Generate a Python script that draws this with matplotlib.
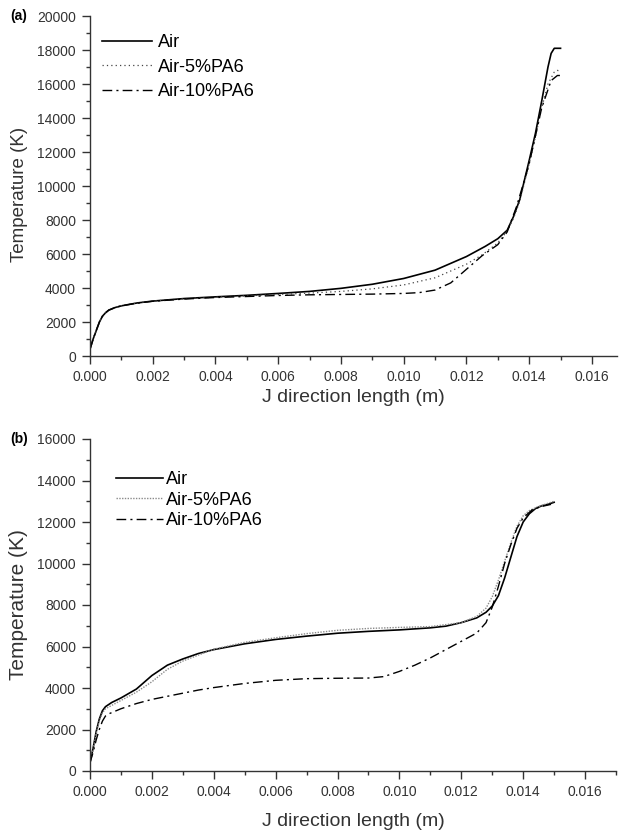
import matplotlib
matplotlib.use('Agg')
import matplotlib.pyplot as plt
from matplotlib.ticker import MultipleLocator, FormatStrFormatter

plt.rcParams['font.family'] = ['Liberation Sans', 'DejaVu Sans']

# (a) temperature along the J direction
air_a_x = [0.0, 0.0001, 0.0002, 0.0003, 0.0004, 0.0005, 0.0006, 0.0008, 0.001, 0.0015,
           0.002, 0.003, 0.004, 0.005, 0.006, 0.007, 0.008, 0.009, 0.010, 0.011,
           0.012, 0.0126, 0.013, 0.0133, 0.0135, 0.0137, 0.014, 0.0142, 0.0144,
           0.0146, 0.0147, 0.0148, 0.015]
air_a_T = [400, 1000, 1500, 2000, 2350, 2550, 2700, 2850, 2950, 3120,
           3230, 3380, 3480, 3570, 3680, 3800, 3980, 4220, 4560, 5050,
           5850, 6450, 6900, 7400, 8200, 9200, 11500, 13100, 15000,
           17000, 17800, 18100, 18100]

pa5_a_x = [0.0, 0.0001, 0.0002, 0.0003, 0.0004, 0.0005, 0.0006, 0.0008, 0.001, 0.0015,
           0.002, 0.003, 0.004, 0.005, 0.006, 0.007, 0.008, 0.009, 0.010, 0.011,
           0.012, 0.0125, 0.013, 0.0133, 0.0135, 0.0137, 0.014, 0.0142, 0.0144,
           0.0146, 0.0148, 0.0149, 0.015]
pa5_a_T = [400, 1000, 1500, 2000, 2350, 2550, 2700, 2850, 2950, 3120,
           3230, 3370, 3460, 3540, 3620, 3700, 3800, 3950, 4180, 4600,
           5400, 5950, 6650, 7350, 8100, 9100, 11300, 12900, 14600,
           16000, 16700, 16800, 16750]

pa10_a_x = [0.0, 0.0001, 0.0002, 0.0003, 0.0004, 0.0005, 0.0006, 0.0008, 0.001, 0.0015,
            0.002, 0.003, 0.004, 0.005, 0.006, 0.007, 0.008, 0.009, 0.010, 0.0105,
            0.011, 0.0115, 0.012, 0.0125, 0.013, 0.0133, 0.0136, 0.014, 0.0144,
            0.0147, 0.0149, 0.015]
pa10_a_T = [400, 1000, 1500, 2000, 2350, 2550, 2700, 2850, 2950, 3110,
            3220, 3350, 3440, 3500, 3560, 3600, 3620, 3640, 3680, 3730,
            3880, 4300, 5100, 5900, 6550, 7300, 8800, 11300, 14600,
            16200, 16500, 16500]

# (b)
air_b_x = [0.0, 0.0001, 0.0002, 0.0003, 0.0004, 0.0005, 0.0007, 0.001, 0.0015, 0.002,
           0.0025, 0.003, 0.0035, 0.004, 0.005, 0.006, 0.007, 0.008, 0.009, 0.010,
           0.011, 0.0115, 0.012, 0.0125, 0.0128, 0.013, 0.0132, 0.0134, 0.0136,
           0.0138, 0.014, 0.0142, 0.0144, 0.0146, 0.0148, 0.015]
air_b_T = [400, 1100, 1900, 2500, 2900, 3100, 3300, 3520, 3950, 4600,
           5100, 5400, 5660, 5850, 6130, 6340, 6500, 6640, 6730, 6800,
           6900, 6980, 7150, 7380, 7650, 7950, 8450, 9300, 10300,
           11300, 12000, 12400, 12650, 12780, 12850, 12950]

pa5_b_x = [0.0, 0.0001, 0.0002, 0.0003, 0.0004, 0.0005, 0.001, 0.0015, 0.002, 0.0025,
           0.003, 0.004, 0.005, 0.006, 0.007, 0.008, 0.009, 0.010, 0.011, 0.012,
           0.0125, 0.0128, 0.013, 0.0132, 0.0134, 0.0136, 0.0138, 0.014, 0.0142,
           0.0145, 0.0148, 0.015]
pa5_b_T = [400, 1000, 1800, 2400, 2800, 3000, 3400, 3800, 4300, 4900,
           5300, 5870, 6200, 6420, 6620, 6780, 6870, 6920, 6960, 7150,
           7450, 7850, 8400, 9200, 10100, 11000, 11800, 12300, 12550,
           12750, 12900, 13000]

pa10_b_x = [0.0, 0.0001, 0.0002, 0.0003, 0.0004, 0.0005, 0.0006, 0.001, 0.0015, 0.002,
            0.0025, 0.003, 0.0035, 0.004, 0.005, 0.006, 0.007, 0.008, 0.009, 0.0095,
            0.010, 0.0105, 0.011, 0.0115, 0.012, 0.0125, 0.0128, 0.013, 0.0132,
            0.0134, 0.0136, 0.0138, 0.014, 0.0143, 0.0146, 0.0149]
pa10_b_T = [400, 900, 1500, 2000, 2400, 2650, 2750, 3000, 3250, 3450,
            3600, 3750, 3900, 4020, 4220, 4370, 4450, 4470, 4480, 4550,
            4800, 5100, 5450, 5850, 6250, 6650, 7150, 7900, 8900,
            10000, 10900, 11700, 12200, 12600, 12750, 12850]

labels = ['Air', 'Air-5%PA6', 'Air-10%PA6']
dashdot = (0, (7, 3, 1.5, 3))

fig = plt.figure(figsize=(6.19, 8.31), dpi=100)
ax_a = fig.add_axes([90 / 619, 1 - 356 / 831, 527 / 619, 340 / 831])
ax_b = fig.add_axes([90 / 619, 1 - 771 / 831, 526 / 619, 332 / 831])

ax_a.plot(air_a_x, air_a_T, color='black', lw=1.2, label=labels[0])
ax_a.plot(pa5_a_x, pa5_a_T, color='#444444', lw=0.9, ls=(0, (1, 2.5)), label=labels[1])
ax_a.plot(pa10_a_x, pa10_a_T, color='black', lw=1.0, ls=dashdot, label=labels[2])

ax_b.plot(air_b_x, air_b_T, color='black', lw=1.2, label=labels[0])
ax_b.plot(pa5_b_x, pa5_b_T, color='#8a8a8a', lw=1.0, ls=(0, (1, 1)), label=labels[1])
ax_b.plot(pa10_b_x, pa10_b_T, color='black', lw=1.0, ls=dashdot, label=labels[2])

ax_a.set_xlim(0, 0.0168)
ax_a.set_ylim(0, 20000)
ax_b.set_xlim(0, 0.017)
ax_b.set_ylim(0, 16000)

# (axis, xlabel y, ylabel y, label size)
for ax, xl_y, yl_y, lab_fs in ((ax_a, -0.097, 0.474, 13.5), (ax_b, -0.127, 0.5, 15)):
    for s in ('top', 'right'):
        ax.spines[s].set_visible(False)
    for s in ('left', 'bottom'):
        ax.spines[s].set_color('#333333')
        ax.spines[s].set_linewidth(1.0)
    ax.xaxis.set_major_locator(MultipleLocator(0.002))
    ax.xaxis.set_minor_locator(MultipleLocator(0.001))
    ax.xaxis.set_major_formatter(FormatStrFormatter('%.3f'))
    ax.yaxis.set_major_locator(MultipleLocator(2000))
    ax.yaxis.set_minor_locator(MultipleLocator(1000))
    ax.tick_params(which='major', direction='out', length=6, width=1.0,
                   color='#333333', labelsize=10, labelcolor='#333333', pad=4)
    ax.tick_params(which='minor', direction='out', length=3, width=1.0, color='#333333')
    ax.set_xlabel('J direction length (m)', fontsize=14, color='#333333')
    ax.set_ylabel('Temperature (K)', fontsize=lab_fs, color='#333333')
    ax.xaxis.set_label_coords(0.5, xl_y)
    ax.yaxis.set_label_coords(-0.117, yl_y)

ax_a.legend(loc='upper left', bbox_to_anchor=(0.01, 0.968), frameon=False, fontsize=13,
            handlelength=2.75, handletextpad=0.3, labelspacing=0.42, borderaxespad=0)
ax_b.legend(loc='upper left', bbox_to_anchor=(0.035, 0.925), frameon=False, fontsize=13,
            handlelength=2.65, handletextpad=0.15, labelspacing=0.2, borderaxespad=0)

fig.text(10 / 619, 1 - 16 / 831, '(a)', fontsize=10, fontweight='bold', va='center')
fig.text(10 / 619, 1 - 439 / 831, '(b)', fontsize=10, fontweight='bold', va='center')

fig.savefig('out.png', dpi=100)
